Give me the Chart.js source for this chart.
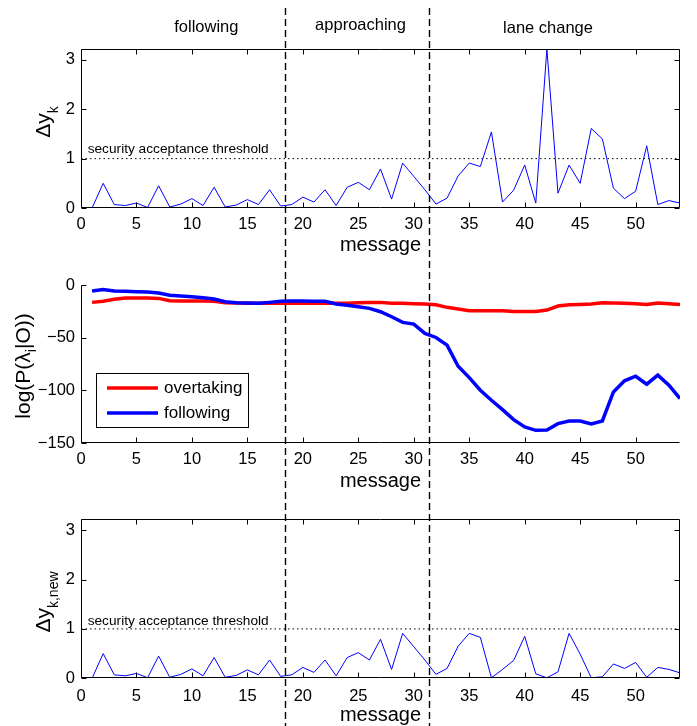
<!DOCTYPE html>
<html><head><meta charset="utf-8">
<script src="https://cdn.jsdelivr.net/npm/chart.js@4.4.1/dist/chart.umd.min.js"></script>
<style>
html,body{margin:0;padding:0;background:#fff;}
#wrap{position:relative;width:697px;height:726px;overflow:hidden;background:#fff}
.c{position:absolute;left:0;width:697px;}
</style></head><body>
<div id="wrap">
<div class="c" style="top:0;height:262px"><canvas id="c1"></canvas></div>
<div class="c" style="top:250px;height:250px"><canvas id="c2"></canvas></div>
<div class="c" style="top:495px;height:231px"><canvas id="c3"></canvas></div>
</div>
<script>
// ---------------- data ----------------
const messages = Array.from({length: 54}, (_, i) => i + 1);
const deltaY = [0, 0.50, 0.07, 0.05, 0.10, 0.01, 0.45, 0.02, 0.08, 0.19,
  0.05, 0.42, 0.02, 0.06, 0.17, 0.07, 0.37, 0.04, 0.07, 0.22,
  0.12, 0.37, 0.05, 0.42, 0.52, 0.37, 0.79, 0.18, 0.91, 0.64,
  0.37, 0.08, 0.20, 0.65, 0.91, 0.84, 1.54, 0.12, 0.36, 0.87,
  0.10, 3.22, 0.30, 0.87, 0.50, 1.61, 1.40, 0.40, 0.19, 0.34,
  1.26, 0.07, 0.15, 0.10];
const deltaYNew = [0, 0.50, 0.07, 0.05, 0.10, 0.01, 0.45, 0.02, 0.08, 0.19,
  0.05, 0.42, 0.02, 0.06, 0.17, 0.07, 0.37, 0.04, 0.07, 0.22,
  0.12, 0.37, 0.05, 0.42, 0.52, 0.37, 0.79, 0.18, 0.91, 0.64,
  0.37, 0.08, 0.20, 0.65, 0.91, 0.83, 0.01, 0.18, 0.36, 0.85,
  0.09, 0.01, 0.13, 0.91, 0.49, 0.01, 0.03, 0.29, 0.20, 0.32,
  0.02, 0.22, 0.18, 0.11];
const logOvertaking = [-16.5, -15.5, -13.6, -12.4, -12.4, -12.4, -12.7, -14.9, -15.2, -15.2,
  -15.2, -15.5, -16.8, -17.1, -17.4, -17.4, -17.4, -17.4, -17.4, -17.4,
  -17.4, -17.4, -17.4, -17.4, -16.8, -16.5, -16.5, -17.4, -17.4, -17.8,
  -18.1, -18.7, -21.2, -22.8, -24.4, -24.4, -24.4, -24.4, -25.1, -25.1,
  -25.1, -23.8, -20.0, -18.7, -18.4, -18.1, -16.8, -17.1, -17.4, -17.8,
  -18.4, -17.1, -17.8, -18.4];
const logFollowing = [-5.7, -4.4, -5.7, -6.0, -6.3, -6.7, -7.6, -9.8, -10.5, -11.1,
  -12.1, -13.3, -15.9, -16.8, -17.1, -17.4, -16.5, -15.5, -15.2, -15.2,
  -15.5, -15.5, -18.0, -19.3, -20.6, -22.2, -25.4, -30.1, -35.5, -37.1,
  -46.0, -49.8, -57.1, -77.1, -87.9, -99.9, -109.4, -118.3, -127.8, -134.8,
  -138.0, -137.6, -131.6, -129.1, -129.1, -131.9, -129.1, -101.5, -91.0, -86.6,
  -94.2, -85.6, -95.1, -107.8];
const xTicks = [0, 5, 10, 15, 20, 25, 30, 35, 40, 45, 50];
const deltaTicks = [0, 1, 2, 3];
const logTicks = [0, -50, -100, -150];
const phaseBoundaries = [18.4, 31.35];
const phaseLabels = ['following', 'approaching', 'lane change'];
const phaseLabelX = [11.3, 25.2, 42.1];
const threshold = 1;
const thresholdLabel = 'security acceptance threshold';
const seriesNames = ['overtaking', 'following'];

// ---------------- helpers ----------------
const FONT = '"Liberation Sans", Arial, Helvetica, sans-serif';
const pts = arr => arr.map((v, i) => ({x: messages[i], y: v}));

function drawRotatedTitle(ctx, parts, cx, cy, size, subSize, subShift) {
  ctx.save();
  ctx.translate(cx, cy);
  ctx.rotate(-Math.PI / 2);
  ctx.fillStyle = '#000';
  ctx.textBaseline = 'alphabetic';
  ctx.textAlign = 'left';
  let total = 0;
  const widths = parts.map(([t, sub]) => {
    ctx.font = (sub ? subSize : size) + 'px ' + FONT;
    const w = ctx.measureText(t).width; total += w; return w;
  });
  let x = -total / 2;
  parts.forEach(([t, sub], i) => {
    ctx.font = (sub ? subSize : size) + 'px ' + FONT;
    ctx.fillText(t, x, sub ? subShift : 0);
    x += widths[i];
  });
  ctx.restore();
}

const deco = {
  id: 'deco',
  afterDraw(chart, _a, o) {
    const {ctx, chartArea: a} = chart;
    const xs = chart.scales.x, ys = chart.scales.y;
    ctx.save();
    ctx.strokeStyle = '#000'; ctx.lineWidth = 1; ctx.setLineDash([]);
    const L = Math.round(a.left) + 0.5, R = Math.round(a.right) - 0.5;
    const T = Math.round(a.top) + 0.5, B = Math.round(a.bottom) - 0.5;
    ctx.beginPath();
    ctx.moveTo(L, T); ctx.lineTo(L, B); ctx.lineTo(R, B);
    if (o.box) { ctx.lineTo(R, T); ctx.lineTo(L, T); }
    ctx.stroke();
    const tl = 5;
    ctx.beginPath();
    xs.ticks.forEach(t => {
      const px = Math.round(xs.getPixelForValue(t.value)) + 0.5;
      ctx.moveTo(px, B); ctx.lineTo(px, B - tl);
      if (o.box) { ctx.moveTo(px, T); ctx.lineTo(px, T + tl); }
    });
    ys.ticks.forEach(t => {
      const py = Math.round(ys.getPixelForValue(t.value)) + 0.5;
      ctx.moveTo(L, py); ctx.lineTo(L + tl, py);
      if (o.box) { ctx.moveTo(R, py); ctx.lineTo(R - tl, py); }
    });
    ctx.stroke();

    // threshold label
    if (o.threshold) {
      ctx.fillStyle = '#000';
      ctx.font = '13.7px ' + FONT;
      ctx.textAlign = 'left'; ctx.textBaseline = 'middle';
      ctx.fillText(thresholdLabel, xs.getPixelForValue(0.6), ys.getPixelForValue(threshold) - o.threshold);
    }

    // phase labels
    if (o.phases) {
      ctx.fillStyle = '#000';
      ctx.font = '16.5px ' + FONT;
      ctx.textAlign = 'center'; ctx.textBaseline = 'alphabetic';
      phaseLabels.forEach((t, i) => ctx.fillText(t, xs.getPixelForValue(phaseLabelX[i]), o.phases[i]));
    }

    // x title
    ctx.fillStyle = '#000';
    ctx.font = '20px ' + FONT;
    ctx.textAlign = 'center'; ctx.textBaseline = 'alphabetic';
    ctx.fillText('message', (a.left + a.right) / 2, o.xTitleY);

    // y title
    drawRotatedTitle(ctx, o.yTitle, o.yTitleX, o.yTitleY, o.yTitleSize, 14, o.subShift);

    // legend
    if (o.legend) {
      const lx = a.left + 15, ly = a.top + 88, lw = 152, lh = 54;
      ctx.fillStyle = '#fff';
      ctx.fillRect(lx, ly, lw, lh);
      ctx.strokeStyle = '#000'; ctx.lineWidth = 1;
      ctx.strokeRect(Math.round(lx) + 0.5, Math.round(ly) + 0.5, lw, lh);
      ctx.font = '17px ' + FONT; ctx.textAlign = 'left'; ctx.textBaseline = 'middle';
      seriesNames.forEach((name, i) => {
        const ds = chart.data.datasets.find(d => d.label === name);
        const yy = ly + 15 + i * 25;
        ctx.strokeStyle = ds.borderColor; ctx.lineWidth = ds.borderWidth;
        ctx.beginPath(); ctx.moveTo(lx + 11, yy); ctx.lineTo(lx + 62, yy); ctx.stroke();
        ctx.fillStyle = '#000';
        ctx.fillText(name, lx + 68, yy);
      });
    }

    // phase boundaries (dashed, spanning the whole figure band)
    ctx.strokeStyle = '#000'; ctx.lineWidth = 1.4;
    const pat = [7, 4];
    ctx.setLineDash(pat);
    ctx.lineDashOffset = ((o.absTop + o.bandTop - 8) % 11 + 11) % 11;
    phaseBoundaries.forEach(v => {
      const px = Math.round(xs.getPixelForValue(v)) + 0.5;
      ctx.beginPath(); ctx.moveTo(px, o.bandTop); ctx.lineTo(px, o.bandBottom); ctx.stroke();
    });
    ctx.restore();
  }
};
Chart.register(deco);

function makeOptions(cfg) {
  return {
    responsive: true, maintainAspectRatio: false, animation: false,
    layout: {padding: {top: cfg.padTop, right: 17, left: 0, bottom: 0}},
    plugins: {legend: {display: false}, tooltip: {enabled: false}, deco: cfg.deco},
    elements: {point: {radius: 0}, line: {tension: 0}},
    scales: {
      x: {
        type: 'linear', min: 0, max: 54,
        afterBuildTicks: s => { s.ticks = xTicks.map(v => ({value: v})); },
        afterFit: s => { s.height = cfg.xHeight; },
        grid: {display: false, drawTicks: false}, border: {display: false},
        ticks: {padding: cfg.xPad, color: '#000', autoSkip: false, maxRotation: 0,
          font: {family: FONT, size: 16.5, lineHeight: 1}}
      },
      y: {
        type: 'linear', min: cfg.yMin, max: cfg.yMax,
        afterBuildTicks: s => { s.ticks = cfg.yTicks.map(v => ({value: v})); },
        afterFit: s => { s.width = 81; },
        grid: {display: false, drawTicks: false}, border: {display: false},
        ticks: {padding: 6, color: '#000', autoSkip: false,
          font: {family: FONT, size: 16.5, lineHeight: 1},
          callback: v => v < 0 ? '\u2212' + Math.abs(v) : String(v)}
      }
    }
  };
}

const thresholdDataset = {label: 'threshold', data: [{x: 0, y: threshold}, {x: 54, y: threshold}],
  borderColor: '#000', borderWidth: 1, borderDash: [1.5, 3], pointRadius: 0};

new Chart(document.getElementById('c1'), {
  type: 'line',
  data: {datasets: [
    {label: 'dy', data: pts(deltaY), borderColor: '#0000ff', borderWidth: 1, pointRadius: 0},
    thresholdDataset
  ]},
  options: makeOptions({padTop: 49, xHeight: 54, xPad: 8, yMin: 0, yMax: 3.22, yTicks: deltaTicks,
    deco: {box: true, threshold: 9, phases: [32, 29.5, 32.5], xTitleY: 251,
      yTitle: [['\u0394y', false], ['k', true]], yTitleX: 50, yTitleY: 122, yTitleSize: 21, subShift: 8,
      absTop: 0, bandTop: 8, bandBottom: 250}})
});

new Chart(document.getElementById('c2'), {
  type: 'line',
  data: {datasets: [
    {label: 'overtaking', data: pts(logOvertaking), borderColor: '#ff0000', borderWidth: 3.5, pointRadius: 0, order: 2},
    {label: 'following', data: pts(logFollowing), borderColor: '#0000ff', borderWidth: 3.5, pointRadius: 0, order: 1}
  ]},
  options: makeOptions({padTop: 35, xHeight: 57, xPad: 8, yMin: -150, yMax: 0, yTicks: logTicks,
    deco: {box: false, legend: true, xTitleY: 237,
      yTitle: [['log(P(\u03BB', false], ['i', true], ['|O))', false]], yTitleX: 30, yTitleY: 116, yTitleSize: 21, subShift: 6,
      absTop: 250, bandTop: 0, bandBottom: 245}})
});

new Chart(document.getElementById('c3'), {
  type: 'line',
  data: {datasets: [
    {label: 'dynew', data: pts(deltaYNew), borderColor: '#0000ff', borderWidth: 1, pointRadius: 0},
    Object.assign({}, thresholdDataset)
  ]},
  options: makeOptions({padTop: 24.3, xHeight: 47.7, xPad: 10, yMin: 0, yMax: 3.22, yTicks: deltaTicks,
    deco: {box: true, threshold: 8, xTitleY: 226,
      yTitle: [['\u0394y', false], ['k,new', true]], yTitleX: 50, yTitleY: 107, yTitleSize: 21, subShift: 8,
      absTop: 495, bandTop: 0, bandBottom: 231}})
});
</script>
</body></html>
